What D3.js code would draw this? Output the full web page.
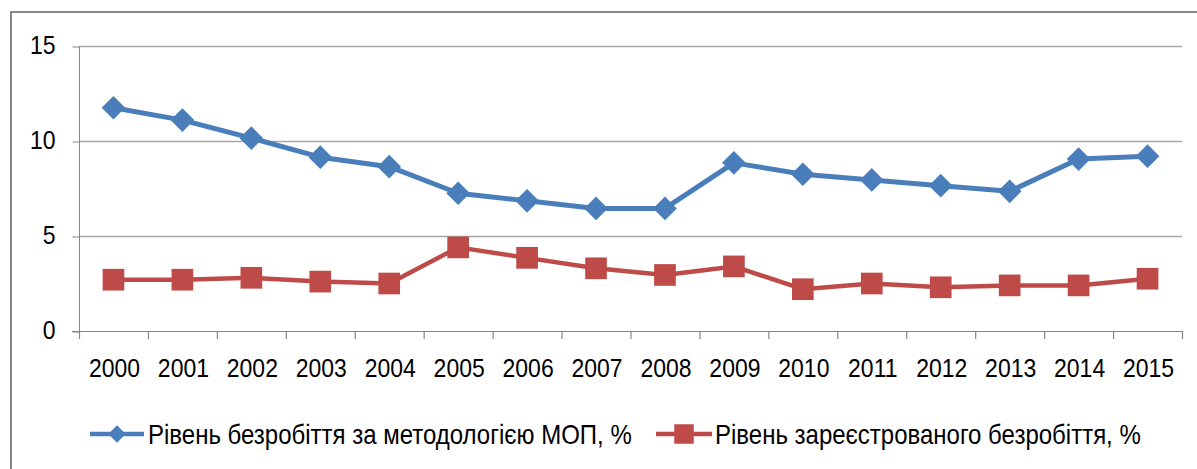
<!DOCTYPE html>
<head>
  <meta charset="utf-8">
  <script src="https://d3js.org/d3.v7.min.js"></script>
  <style>
    body { margin:0; background:#fff; }
    svg { display:block; }
    text { font-family: "Liberation Sans", Arial, sans-serif; fill:#000; }
  </style>
</head>

<body>
  <script type='text/javascript'>
    var years = ['2000','2001','2002','2003','2004','2005','2006','2007',
                 '2008','2009','2010','2011','2012','2013','2014','2015'];
    var ilo = [11.75, 11.1, 10.15, 9.15, 8.65, 7.25, 6.85, 6.45,
               6.45, 8.85, 8.25, 7.95, 7.65, 7.35, 9.05, 9.2];
    var registered = [2.7, 2.7, 2.8, 2.6, 2.5, 4.4, 3.85, 3.3,
                      2.95, 3.4, 2.2, 2.5, 2.3, 2.4, 2.4, 2.75];
    var yTicks = [0, 5, 10, 15];
    var seriesNames = ['Рівень безробіття за методологією МОП, %',
                       'Рівень зареєстрованого безробіття, %'];

    var W = 1197, H = 469;
    // plot area (note: "top"/"right" would clash with window globals)
    var plotL = 79, plotR = 1182, plotT = 46, plotB = 331;
    var blue = '#4a7ebb', red = '#be4b48', axisGrey = '#868686';
    var stretch = 1.12; // the original lettering is a bit taller than Arial

    var svg = d3.select('body').append('svg')
      .attr('width', W).attr('height', H);

    // outer chart frame (runs off the right and bottom of the picture)
    svg.append('rect')
      .attr('x', 11).attr('y', 12)
      .attr('width', W + 20).attr('height', H + 20)
      .attr('fill', 'none').attr('stroke', axisGrey).attr('stroke-width', 2);

    var x = d3.scaleBand().domain(years).range([plotL, plotR]);
    var y = d3.scaleLinear().domain([0, 15]).range([plotB, plotT]);

    // gridlines
    svg.append('g').selectAll('line')
      .data(yTicks.filter(d => d > 0)).enter().append('line')
      .attr('x1', plotL).attr('x2', plotR)
      .attr('y1', d => y(d) + 0.5).attr('y2', d => y(d) + 0.5)
      .attr('stroke', '#a6a6a6').attr('stroke-width', 1.5);

    // y axis
    var yAxis = d3.axisLeft(y).tickValues(yTicks).tickSize(7).tickPadding(17);
    var gy = svg.append('g').attr('transform', 'translate(' + (plotL + 0.5) + ',0.5)').call(yAxis);
    gy.select('.domain').attr('stroke', axisGrey).attr('d', 'M0,' + plotT + 'V' + plotB);
    gy.selectAll('.tick line').attr('stroke', axisGrey);
    gy.selectAll('text').style('font-size', '23px').attr('fill', '#000')
      .attr('font-family', '"Liberation Sans", Arial, sans-serif')
      .attr('dy', '0.28em')
      .attr('transform', 'scale(1,' + stretch + ')');

    // x axis, ticks between categories
    svg.append('line')
      .attr('x1', plotL - 7).attr('x2', plotR)
      .attr('y1', plotB + 0.5).attr('y2', plotB + 0.5)
      .attr('stroke', axisGrey).attr('stroke-width', 1.2);
    var bounds = years.map(d => x(d)).concat([plotR]);
    svg.append('g').selectAll('line')
      .data(bounds).enter().append('line')
      .attr('x1', d => d + 0.5).attr('x2', d => d + 0.5)
      .attr('y1', plotB).attr('y2', plotB + 8)
      .attr('stroke', axisGrey).attr('stroke-width', 1.2);
    svg.append('g').selectAll('text')
      .data(years).enter().append('text')
      .attr('transform', d => 'translate(' + (x(d) + x.bandwidth() / 2 + 1) + ',377) scale(1,' + stretch + ')')
      .attr('text-anchor', 'middle')
      .style('font-size', '23px')
      .text(d => d);

    var cx = (d, i) => x(years[i]) + x.bandwidth() / 2;

    var diamond = {
      draw: function(ctx, s) {
        var r = Math.sqrt(s) / 2;
        ctx.moveTo(0, -r); ctx.lineTo(r, 0); ctx.lineTo(0, r); ctx.lineTo(-r, 0); ctx.closePath();
      }
    };

    function drawSeries(values, color, width, symbol, size) {
      svg.append('path')
        .datum(values)
        .attr('fill', 'none').attr('stroke', color)
        .attr('stroke-width', width).attr('stroke-linejoin', 'round')
        .attr('d', d3.line().x(cx).y(d => y(d)));
      svg.append('g').selectAll('path')
        .data(values).enter().append('path')
        .attr('transform', (d, i) => 'translate(' + cx(d, i) + ',' + y(d) + ')')
        .attr('d', d3.symbol().type(symbol).size(size)())
        .attr('fill', color);
    }

    drawSeries(registered, red, 4.5, d3.symbolSquare, 470);
    drawSeries(ilo, blue, 5, diamond, 560);

    // legend
    var lg = svg.append('g');
    var legendY = 434;
    lg.append('line').attr('x1', 90).attr('x2', 144)
      .attr('y1', legendY).attr('y2', legendY)
      .attr('stroke', blue).attr('stroke-width', 4.5);
    lg.append('path').attr('transform', 'translate(117,' + legendY + ')')
      .attr('d', d3.symbol().type(diamond).size(300)()).attr('fill', blue);
    lg.append('text')
      .attr('transform', 'translate(148,' + (legendY + 10) + ') scale(1,' + stretch + ')')
      .style('font-size', '24px').text(seriesNames[0]);

    lg.append('line').attr('x1', 656).attr('x2', 712)
      .attr('y1', legendY).attr('y2', legendY)
      .attr('stroke', red).attr('stroke-width', 4.5);
    lg.append('path').attr('transform', 'translate(684,' + legendY + ')')
      .attr('d', d3.symbol().type(d3.symbolSquare).size(380)()).attr('fill', red);
    lg.append('text')
      .attr('transform', 'translate(715,' + (legendY + 10) + ') scale(1,' + stretch + ')')
      .style('font-size', '24px').text(seriesNames[1]);
  </script>
</body>
